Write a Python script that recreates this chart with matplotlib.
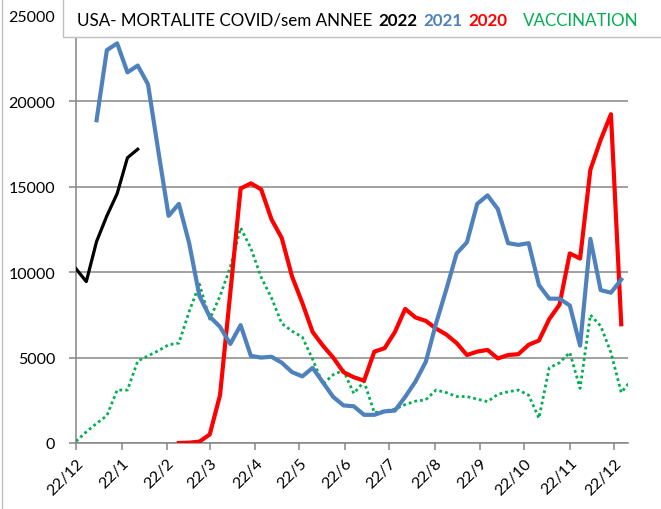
import matplotlib
matplotlib.use("Agg")
import matplotlib.pyplot as plt
from matplotlib.patches import Rectangle
import numpy as np
import pandas as pd

plt.rcParams['font.family'] = ['Lato', 'DejaVu Sans']

# ---- data (weekly values) ----
week_dates = pd.date_range('2019-12-22', periods=55, freq='7D')

# 2022 series starts at week 0
deaths_2022 = [10200, 9450, 11800, 13300, 14600, 16700, 17200]
start_2022 = 0

# 2021 series starts at week 2
deaths_2021 = [18900, 23000, 23400, 21700, 22100, 21000, 17100, 13300, 14000, 11700,
               8600, 7400, 6800, 5800, 6900, 5100, 5000, 5050, 4700, 4150,
               3900, 4400, 3550, 2700, 2200, 2150, 1650, 1650, 1850, 1900,
               2700, 3600, 4750, 7000, 9000, 11100, 11750, 14000, 14500, 13700,
               11700, 11600, 11700, 9250, 8450, 8450, 8050, 5700, 11950, 8950,
               8800, 9570]
start_2021 = 2

# 2020 series starts at week 10
deaths_2020 = [0, 20, 80, 500, 2800, 8800, 14900, 15200, 14850, 13100,
               12000, 9750, 8200, 6500, 5700, 5000, 4150, 3850, 3650, 5350,
               5550, 6500, 7850, 7350, 7150, 6700, 6350, 5850, 5150, 5350,
               5450, 4950, 5150, 5200, 5750, 6000, 7250, 8100, 11100, 10800,
               16000, 17750, 19250, 6950]
start_2020 = 10

# vaccination series starts at week 0
vaccination = [100, 650, 1150, 1600, 3100, 3100, 4800, 5100, 5400, 5750,
               5850, 7700, 9300, 7250, 8600, 10300, 12600, 11400, 9700, 8500,
               7000, 6550, 6200, 4900, 3450, 4000, 4250, 2900, 3600, 1770,
               1890, 1980, 2250, 2450, 2530, 3100, 2950, 2720, 2720, 2570,
               2420, 2850, 3000, 3100, 2800, 1450, 4400, 4700, 5300, 3200,
               7500, 6850, 5300, 2950, 3700]
start_vacc = 0

tick_dates = pd.date_range('2019-12-01', periods=13, freq='MS') + pd.Timedelta(days=21)
tick_labels = ['22/12', '22/1', '22/2', '22/3', '22/4', '22/5', '22/6',
               '22/7', '22/8', '22/9', '22/10', '22/11', '22/12']
y_ticks = [0, 5000, 10000, 15000, 20000, 25000]

title_parts = [("USA- MORTALITE COVID/sem ANNEE", 'black', 'normal'),
               ("2022", 'black', 'bold'),
               ("2021", '#4F81BD', 'bold'),
               ("2020", '#FF0000', 'bold'),
               ("VACCINATION", '#00B050', 'normal')]
title_gaps_px = [6, 6, 6, 15]

# ---- figure ----
W, H = 661, 510
fig = plt.figure(figsize=(W / 100, H / 100), dpi=100)
fig.patch.set_facecolor('white')
ax = fig.add_axes([76 / W, 1 - 444 / H, (628 - 76) / W, (444 - 17) / H])

grey = '#868686'

def seg(vals, start):
    return week_dates[start:start + len(vals)], vals

x, y = seg(vaccination, start_vacc)
ax.plot(x, y, color='#00B050', lw=2.0, linestyle=(0, (1, 1.1)), zorder=3)
x, y = seg(deaths_2020, start_2020)
ax.plot(x, y, color='#FF0000', lw=3.0, zorder=4, solid_joinstyle='round')
x, y = seg(deaths_2021, start_2021)
ax.plot(x, y, color='#4F81BD', lw=3.0, zorder=5, solid_joinstyle='round')
x, y = seg(deaths_2022, start_2022)
ax.plot(x, y, color='black', lw=2.3, zorder=6, solid_joinstyle='round')

ax.set_ylim(0, 25000)
ax.set_xlim(week_dates[0], week_dates[0] + pd.Timedelta(days=375.6))
ax.set_yticks(y_ticks)
ax.set_yticklabels([str(v) for v in y_ticks])
ax.set_xticks(tick_dates)
ax.set_xticklabels(tick_labels, rotation=45, ha='right', va='top',
                   rotation_mode='anchor')
ax.yaxis.grid(True, color=grey, lw=1.1)
ax.set_axisbelow(True)
for s in ['top', 'right']:
    ax.spines[s].set_visible(False)
for s in ['left', 'bottom']:
    ax.spines[s].set_color(grey)
    ax.spines[s].set_linewidth(1.1)
ax.tick_params(axis='both', color=grey, length=5, width=1.1, labelsize=11.5)
ax.tick_params(axis='y', pad=10)
ax.tick_params(axis='x', pad=4)

# title box
fig.patches.append(Rectangle((63 / W, 1 - 38 / H), 1.0, 0.2, transform=fig.transFigure,
                             facecolor='white', edgecolor='#BFBFBF', lw=1.0, zorder=10))

# title text: fit the pieces into the reference span (x 77 .. 639 px)
renderer = fig.canvas.get_renderer()
f0 = 12.0
texts = []
for txt, col, wt in title_parts:
    t = fig.text(0, 1 - 21 / H, txt, color=col, fontweight=wt, fontsize=f0,
                 ha='left', va='center', zorder=11)
    texts.append(t)
widths = [t.get_window_extent(renderer).width for t in texts]
span = 639 - 77 - sum(title_gaps_px)
fs = f0 * span / sum(widths)
for t in texts:
    t.set_fontsize(fs)
xpos = 77.0
for i, t in enumerate(texts):
    t.set_x(xpos / W)
    w = t.get_window_extent(renderer).width
    if i < len(title_gaps_px):
        xpos += w + title_gaps_px[i]

# left border line of chart frame
fig.add_artist(plt.Line2D([1.5 / W, 1.5 / W], [0, 1], transform=fig.transFigure,
                          color='#BFBFBF', lw=1.0))

fig.savefig('out.png', dpi=100)
